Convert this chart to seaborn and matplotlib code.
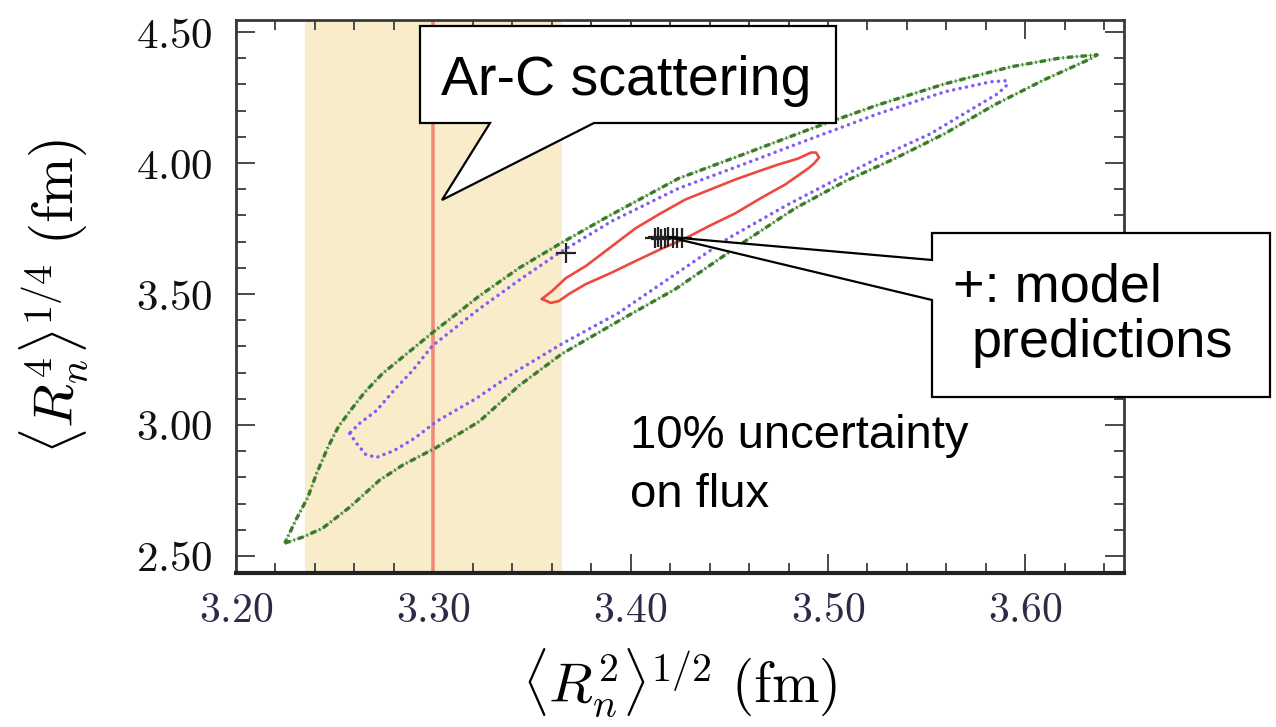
import numpy as np
import matplotlib
matplotlib.use("Agg")
import matplotlib.pyplot as plt
import seaborn as sns
from matplotlib.patches import Polygon
from matplotlib.ticker import MultipleLocator, FuncFormatter

# ---- data -----------------------------------------------------------------
# outer contour (dash-dot), counter-clockwise from the lower-left tip
outer_r2 = [3.2247, 3.2338, 3.2439, 3.2576, 3.2727, 3.2843, 3.3015, 3.3232,
            3.3434, 3.3652, 3.3939, 3.4227, 3.4581, 3.4833, 3.5086, 3.5338,
            3.5591, 3.5843, 3.6096, 3.6328, 3.6364, 3.6177, 3.5924, 3.5591,
            3.5253, 3.4914, 3.4581, 3.4242, 3.3904, 3.3646, 3.3434, 3.3232,
            3.2995, 3.2742, 3.2652, 3.2590, 3.2520, 3.2465, 3.2409, 3.2364,
            3.2303]
outer_r4 = [2.549, 2.572, 2.606, 2.686, 2.789, 2.846, 2.914, 3.013,
            3.150, 3.272, 3.397, 3.519, 3.702, 3.827, 3.930, 4.017,
            4.112, 4.222, 4.318, 4.397, 4.413, 4.401, 4.367, 4.302,
            4.222, 4.131, 4.036, 3.941, 3.804, 3.694, 3.599, 3.492,
            3.352, 3.196, 3.125, 3.065, 2.995, 2.914, 2.816, 2.724,
            2.637]

# middle contour (dotted)
middle_r2 = [3.2576, 3.2611, 3.2657, 3.2712, 3.2803, 3.2904, 3.3015, 3.3217,
             3.3409, 3.3652, 3.3939, 3.4227, 3.4495, 3.4798, 3.5051, 3.5288,
             3.5520, 3.5722, 3.5859, 3.5909, 3.5899, 3.5823, 3.5591, 3.5253,
             3.4914, 3.4581, 3.4242, 3.3904, 3.3636, 3.3450, 3.3232, 3.2995,
             3.2894, 3.2813, 3.2712, 3.2626]
middle_r4 = [2.968, 2.930, 2.888, 2.876, 2.903, 2.949, 3.013, 3.101,
             3.200, 3.310, 3.428, 3.576, 3.713, 3.842, 3.941, 4.032,
             4.112, 4.203, 4.264, 4.299, 4.314, 4.310, 4.272, 4.188,
             4.093, 3.998, 3.903, 3.778, 3.656, 3.561, 3.443, 3.302,
             3.207, 3.143, 3.055, 3.006]

# inner contour (solid)
inner_r2 = [3.3550, 3.3601, 3.3672, 3.3773, 3.3899, 3.4025, 3.4152, 3.4278,
            3.4404, 3.4530, 3.4646, 3.4747, 3.4848, 3.4914, 3.4939, 3.4955,
            3.4929, 3.4899, 3.4783, 3.4657, 3.4530, 3.4404, 3.4278, 3.4152,
            3.4025, 3.3899, 3.3773, 3.3687, 3.3636, 3.3596]
inner_r4 = [3.481, 3.511, 3.561, 3.607, 3.679, 3.751, 3.808, 3.861,
            3.899, 3.937, 3.968, 3.994, 4.017, 4.040, 4.040, 4.021,
            3.998, 3.979, 3.918, 3.865, 3.808, 3.762, 3.713, 3.671,
            3.626, 3.580, 3.538, 3.500, 3.473, 3.466]

# model predictions
model_r2 = [3.3670, 3.4121, 3.4138, 3.4155, 3.4172, 3.4189, 3.4212, 3.4236, 3.4259]
model_r4 = [3.655, 3.713, 3.716, 3.711, 3.714, 3.718, 3.712, 3.715, 3.713]

# Ar-C scattering result: central value and band
arc_central = 3.30
arc_low, arc_high = 3.235, 3.365

x_limits = (3.20, 3.65)
y_limits = (2.435, 4.546)

callout_arc = "Ar-C scattering"
callout_model = ["+: model", "predictions"]
flux_note = ["10% uncertainty", "on flux"]

# ---- style ----------------------------------------------------------------
sns.set_style("ticks")
plt.rcParams["font.family"] = ["Liberation Sans", "DejaVu Sans"]
plt.rcParams["mathtext.fontset"] = "cm"
plt.rcParams["lines.scale_dashes"] = False
plt.rcParams["text.color"] = "black"
plt.rcParams["axes.labelcolor"] = "black"

W, H = 1276, 727
fig = plt.figure(figsize=(W / 100, H / 100), dpi=100)
ax = fig.add_axes([236 / W, 1 - 573 / H, (1124 - 236) / W, (573 - 20) / H])


def closed(v):
    return np.append(np.asarray(v), v[0])


ax.axvspan(arc_low, arc_high, color="#F8ECCB", lw=0, zorder=0)
ax.axvline(arc_central, color="#EF8C77", lw=2.6, zorder=1)

# outer: faint continuous trace under a dash-dot pattern
sns.lineplot(x=closed(outer_r2), y=closed(outer_r4), sort=False, estimator=None,
             color="#A9CC9C", lw=1.0, ax=ax, zorder=2)
sns.lineplot(x=closed(outer_r2), y=closed(outer_r4), sort=False, estimator=None,
             color="#3A7A28", lw=2.4, linestyle=(0, (4.5, 2.2, 1.0, 2.2)),
             ax=ax, zorder=3)
# middle: round dots
sns.lineplot(x=closed(middle_r2), y=closed(middle_r4), sort=False, estimator=None,
             color="#7F5EF5", lw=2.5, linestyle=(0, (0.1, 4.6)),
             dash_capstyle="round", ax=ax, zorder=3)
sns.lineplot(x=closed(inner_r2), y=closed(inner_r4), sort=False, estimator=None,
             color="#EC4A3E", lw=1.9, ax=ax, zorder=4)
sns.scatterplot(x=model_r2, y=model_r4, marker="+", s=210, color="#222222",
                linewidth=1.6, ax=ax, zorder=5, legend=False)

ax.set_xlim(*x_limits)
ax.set_ylim(*y_limits)
ax.xaxis.set_major_locator(MultipleLocator(0.1))
ax.xaxis.set_minor_locator(MultipleLocator(0.02))
ax.yaxis.set_major_locator(MultipleLocator(0.5))
ax.yaxis.set_minor_locator(MultipleLocator(0.1))
fmt = FuncFormatter(lambda v, p: f"${v:.2f}$")
ax.xaxis.set_major_formatter(fmt)
ax.yaxis.set_major_formatter(fmt)
ax.tick_params(which="both", direction="in", top=True, right=True,
               color="#4a4a4a", width=1.4)
ax.tick_params(which="major", length=14)
ax.tick_params(which="minor", length=7.5)
ax.tick_params(axis="x", which="major", labelsize=30, pad=13, labelcolor="#2b2b48")
ax.tick_params(axis="y", which="major", labelsize=31, pad=17, labelcolor="#111111")
for side in ["left", "right", "top"]:
    ax.spines[side].set_linewidth(2.0)
    ax.spines[side].set_color("#3a3a3a")
ax.spines["bottom"].set_linewidth(3.0)
ax.spines["bottom"].set_color("#222222")

ax.set_xlabel(r"$\langle R_n^2\rangle^{1/2}\ (\mathrm{fm})$", fontsize=41)
ax.set_ylabel(r"$\langle R_n^4\rangle^{1/4}\ (\mathrm{fm})$", fontsize=41)
ax.xaxis.set_label_coords(0.5, -0.132)
ax.yaxis.set_label_coords(-0.164, 0.5)


# ---- callouts (figure pixel layout) -----------------------------------------
def fpx(x, y):
    return (x / W, 1 - y / H)


to_fig = fig.transFigure.inverted()
fig.canvas.draw()
model_tip = to_fig.transform(ax.transData.transform((model_r2[5], model_r4[5])))

arc_shape = [fpx(420, 26), fpx(836, 26), fpx(836, 123), fpx(594, 123),
             fpx(442, 200), fpx(490, 123), fpx(420, 123)]
model_shape = [fpx(932, 233), fpx(1270, 233), fpx(1270, 397), fpx(932, 397),
               fpx(932, 300), tuple(model_tip), fpx(932, 260)]
for shape in (arc_shape, model_shape):
    fig.add_artist(Polygon(shape, closed=True, fc="white", ec="black",
                           lw=1.6, transform=fig.transFigure, zorder=10))

fig.text(*fpx(441, 95), callout_arc, fontsize=40, va="baseline", zorder=11)
fig.text(*fpx(953, 302), callout_model[0], fontsize=39, va="baseline", zorder=11)
fig.text(*fpx(972, 357), callout_model[1], fontsize=39, va="baseline", zorder=11)
fig.text(*fpx(630, 448), flux_note[0], fontsize=34, va="baseline", zorder=11)
fig.text(*fpx(630, 507), flux_note[1], fontsize=34, va="baseline", zorder=11)

fig.savefig("out.png", dpi=100)
